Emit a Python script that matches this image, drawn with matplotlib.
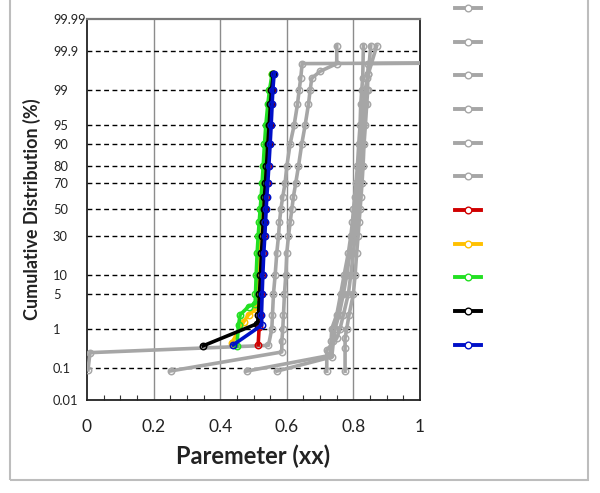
import math
import numpy as np
import matplotlib
matplotlib.use("Agg")
import matplotlib.pyplot as plt
from matplotlib.lines import Line2D
from matplotlib.patches import Rectangle
from matplotlib.ticker import FixedLocator, NullLocator, MultipleLocator

plt.rcParams['font.family'] = ['Lato', 'DejaVu Sans']

# ---------------- data ----------------
y_ticks = [0.01, 0.1, 1, 5, 10, 30, 50, 70, 80, 90, 95, 99, 99.9, 99.99]
y_tick_labels = ["0.01", "0.1", "1", "5", "10", "30", "50", "70", "80", "90", "95", "99", "99.9", "99.99"]
x_ticks = [0, 0.2, 0.4, 0.6, 0.8, 1]
x_tick_labels = ["0", "0.2", "0.4", "0.6", "0.8", "1"]

levels = [1, 2, 5, 10, 20, 30, 40, 50, 60, 70, 80, 90, 95, 98, 99]

# gray series (cumulative %, value)
g1_p = [0.087, 0.26, 0.40] + levels + [99.5, 99.78, 99.83]
g1_x = [0.003, 0.009, 0.545,
        0.555, 0.557, 0.56, 0.565, 0.57, 0.575, 0.578, 0.582, 0.588, 0.595, 0.60, 0.61, 0.622, 0.632, 0.637,
        0.642, 0.646, 3.0]

g2_p = [0.081, 0.27, 0.5] + levels + [99.48, 99.65, 99.78, 99.93]
g2_x = [0.251, 0.585, 0.585,
        0.588, 0.59, 0.593, 0.597, 0.60, 0.605, 0.61, 0.615, 0.62, 0.627, 0.635, 0.645, 0.655, 0.665, 0.67,
        0.675, 0.70, 0.75, 0.75]

g3_p = [0.08, 0.22, 0.5] + levels + [99.5, 99.93]
g3_x = [0.479, 0.73, 0.733,
        0.735, 0.75, 0.762, 0.772, 0.785, 0.792, 0.797, 0.80, 0.804, 0.808, 0.812, 0.816, 0.82, 0.822, 0.825,
        0.828, 0.83]

g4_p = [0.08, 0.2, 0.5] + levels + [99.6, 99.93]
g4_x = [0.57, 0.735, 0.74,
        0.745, 0.757, 0.77, 0.78, 0.79, 0.797, 0.802, 0.806, 0.81, 0.813, 0.817, 0.822, 0.826, 0.83, 0.835,
        0.845, 0.852]

g5_p = [0.08, 0.3, 0.6] + levels + [99.6, 99.93]
g5_x = [0.72, 0.72, 0.75,
        0.76, 0.77, 0.785, 0.792, 0.80, 0.805, 0.809, 0.812, 0.815, 0.818, 0.822, 0.826, 0.83, 0.835, 0.84,
        0.845, 0.87]

g6_p = [0.08, 0.35, 0.6] + levels + [99.5, 99.78, 99.84]
g6_x = [0.775, 0.775, 0.775,
        0.78, 0.787, 0.80, 0.805, 0.81, 0.814, 0.817, 0.82, 0.823, 0.826, 0.829, 0.832, 0.836, 0.84, 0.843,
        0.842, 0.845, 3.0]

red_p = [0.41, 1.1, 2, 5, 10, 20, 30, 40, 50, 60, 70, 80, 90, 95, 98, 99, 99.6]
red_x = [0.514, 0.517, 0.519, 0.522, 0.525, 0.528, 0.531, 0.533, 0.535, 0.537, 0.54, 0.543, 0.547, 0.55, 0.553, 0.556, 0.56]

orange_p = [0.45, 1.4, 2.0, 2.6, 5, 10, 20, 30, 40, 50, 60, 70, 80, 90, 95, 98, 99, 99.6]
orange_x = [0.434, 0.47, 0.485, 0.508, 0.51, 0.513, 0.516, 0.519, 0.522, 0.525, 0.527, 0.53, 0.533, 0.537, 0.541, 0.546, 0.55, 0.557]

green_p = [0.38, 1.2, 2.0, 2.9, 3.3, 5, 10, 20, 30, 40, 50, 60, 70, 80, 90, 95, 98, 99, 99.6]
green_x = [0.45, 0.455, 0.46, 0.485, 0.505, 0.506, 0.508, 0.511, 0.514, 0.517, 0.52, 0.523, 0.526, 0.529, 0.533, 0.537, 0.543, 0.548, 0.556]

black_p = [0.39, 1.3, 2, 5, 10, 20, 30, 40, 50, 60, 70, 80, 90, 95, 98, 99, 99.6]
black_x = [0.349, 0.512, 0.515, 0.518, 0.521, 0.524, 0.527, 0.529, 0.531, 0.533, 0.536, 0.539, 0.543, 0.547, 0.551, 0.554, 0.56]

blue_p = [0.41, 1.2, 2, 5, 10, 20, 30, 40, 50, 60, 70, 80, 90, 95, 98, 99, 99.6]
blue_x = [0.439, 0.525, 0.524, 0.526, 0.528, 0.531, 0.534, 0.536, 0.538, 0.54, 0.543, 0.546, 0.55, 0.553, 0.556, 0.558, 0.562]

GRAY = "#a6a6a6"
series = [
    (g1_x, g1_p, GRAY), (g2_x, g2_p, GRAY), (g3_x, g3_p, GRAY),
    (g4_x, g4_p, GRAY), (g5_x, g5_p, GRAY), (g6_x, g6_p, GRAY),
    (red_x, red_p, "#d00000"), (orange_x, orange_p, "#ffc000"),
    (green_x, green_p, "#22e022"), (black_x, black_p, "#000000"),
    (blue_x, blue_p, "#0010c8"),
]

# ---------------- normal probability scale ----------------
_a = [-3.969683028665376e+01, 2.209460984245205e+02, -2.759285104469687e+02,
      1.383577518672690e+02, -3.066479806614716e+01, 2.506628277459239e+00]
_b = [-5.447609879822406e+01, 1.615858368580409e+02, -1.556989798598866e+02,
      6.680131188771972e+01, -1.328068155288572e+01]
_c = [-7.784894002430293e-03, -3.223964580411365e-01, -2.400758277161838e+00,
      -2.549732539343734e+00, 4.374664141464968e+00, 2.938163982698783e+00]
_d = [7.784695709041462e-03, 3.224671290700398e-01, 2.445134137142996e+00,
      3.754408661907416e+00]


def _ppf(p):
    p = np.clip(np.asarray(p, dtype=float), 1e-12, 1 - 1e-12)
    plow = 0.02425
    out = np.empty_like(p)
    lo = p < plow
    hi = p > 1 - plow
    mid = ~(lo | hi)
    q = np.sqrt(-2 * np.log(p[lo]))
    out[lo] = (((((_c[0]*q+_c[1])*q+_c[2])*q+_c[3])*q+_c[4])*q+_c[5]) / \
              ((((_d[0]*q+_d[1])*q+_d[2])*q+_d[3])*q+1)
    q = p[mid] - 0.5
    r = q * q
    out[mid] = (((((_a[0]*r+_a[1])*r+_a[2])*r+_a[3])*r+_a[4])*r+_a[5])*q / \
               (((((_b[0]*r+_b[1])*r+_b[2])*r+_b[3])*r+_b[4])*r+1)
    q = np.sqrt(-2 * np.log(1 - p[hi]))
    out[hi] = -(((((_c[0]*q+_c[1])*q+_c[2])*q+_c[3])*q+_c[4])*q+_c[5]) / \
               ((((_d[0]*q+_d[1])*q+_d[2])*q+_d[3])*q+1)
    return out


_erf = np.vectorize(math.erf, otypes=[float])


def fwd(y):
    return _ppf(np.asarray(y, dtype=float) / 100.0)


def inv(z):
    z = np.asarray(z, dtype=float)
    return 50.0 * (1.0 + _erf(z / math.sqrt(2.0)))


# ---------------- figure ----------------
fig = plt.figure(figsize=(6.0, 4.93), dpi=100)
ax = fig.add_axes([87/600, 1 - 400/493, 333/600, 381/493])
ax.set_yscale('function', functions=(fwd, inv))

for xs, ps, col in series:
    ax.plot(xs, ps, color=col, lw=2.6, marker='o', ms=4.6, mfc='none', mec=col, mew=1.1, zorder=3)

ax.set_xlim(0, 1)
ax.set_ylim(0.01, 99.99)

ax.yaxis.set_major_locator(FixedLocator(y_ticks))
ax.yaxis.set_minor_locator(NullLocator())
ax.set_yticklabels(y_tick_labels)
ax.set_xticks(x_ticks)
ax.set_xticklabels(x_tick_labels)
ax.xaxis.set_minor_locator(MultipleLocator(0.05))

ax.tick_params(axis='y', which='major', length=0, pad=24.5, labelsize=9.3, labelcolor='#222222')
for lab in ax.get_yticklabels():
    lab.set_horizontalalignment('left')
ax.tick_params(axis='x', which='major', length=0, pad=14, labelsize=12.5, labelcolor='#222222')
ax.tick_params(axis='x', which='minor', direction='in', length=3.5, width=0.8, color='#333333')

# grid
ax.grid(False)
for xv in x_ticks[1:-1]:
    ax.axvline(xv, color='#8c8c8c', lw=1.0, zorder=1)
for yv in y_ticks[1:-1]:
    ax.axhline(yv, color='black', lw=1.0, ls=(0, (3.5, 2.5)), zorder=1)

for s in ['left', 'bottom', 'right']:
    ax.spines[s].set_color('#222222')
    ax.spines[s].set_linewidth(1.3)
ax.spines['top'].set_color('#7a7a7a')
ax.spines['top'].set_linewidth(1.6)

ax.set_xlabel("Paremeter (xx)", fontsize=17, fontweight='bold', color='#222222')
ax.xaxis.set_label_coords(0.5, -0.117)
ax.set_ylabel("Cumulative Distribution (%)", fontsize=13, fontweight='bold', color='#222222')
ax.yaxis.set_label_coords(-0.137, 0.5)

# legend (no labels)
handles = [Line2D([], [], color=col, lw=2.8, marker='o', ms=4.8, mfc='white', mec=col, mew=1.0)
           for _, _, col in series]
fig.legend(handles, [''] * len(handles), loc='upper left',
           bbox_to_anchor=(455/600, 1 - 3/493), frameon=False, fontsize=10,
           handlelength=1.9, borderpad=0, borderaxespad=0, labelspacing=1.56,
           handletextpad=0.4)

# outer frame
fig.patches.append(Rectangle((10/600, 1 - 480/493), 578/600, 480/493 + 0.05,
                             transform=fig.transFigure, fill=False,
                             edgecolor='#bdbdbd', lw=1.5, clip_on=False))

fig.savefig("out.png", dpi=100)
